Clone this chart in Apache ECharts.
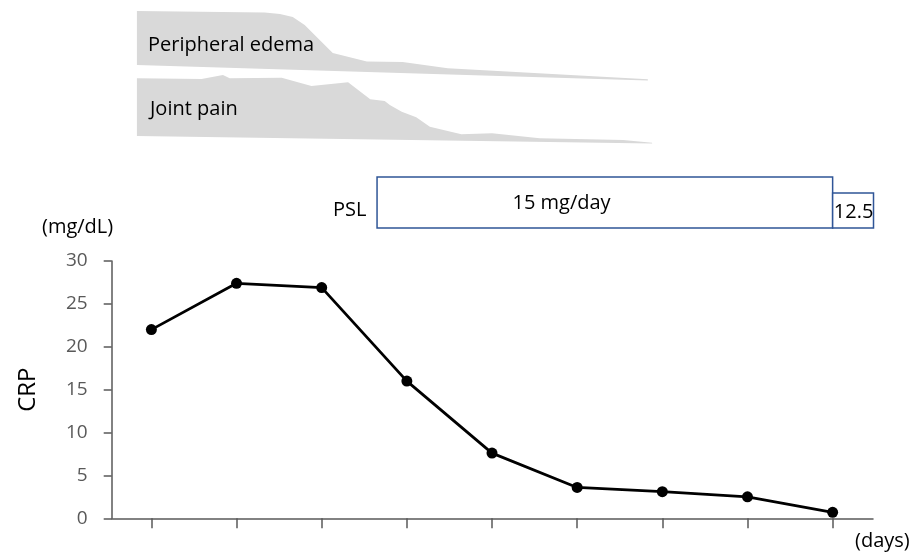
<!DOCTYPE html>
<html>
<head>
    <meta charset="utf-8">
    <script src="https://cdn.jsdelivr.net/npm/echarts@6/dist/echarts.min.js"></script>
</head>
<body style="margin:0">
    <div id="main" style="width:916px; height:555px"></div>
    <script type="text/javascript">
        // CRP course (mg/dL), one point per visit
        var dayIndex = [0, 1, 2, 3, 4, 5, 6, 7, 8];
        var crp = [22.0, 27.4, 26.9, 16.0, 7.6, 3.6, 3.1, 2.5, 0.7];

        // symptom profiles: top edge + sloped base (first / last x)
        var edemaX = [-0.17, 1.33, 1.51, 1.66, 1.80, 2.13, 2.53, 2.95, 3.48, 5.83];
        var edemaTop = [139, 137.5, 136, 133, 125, 97, 88.5, 88, 81.7, 70.7];
        var edemaBase = [85, 69.5];
        var jointX = [-0.17, 0.59, 0.84, 0.92, 1.53, 1.88, 2.31, 2.57, 2.74, 2.80, 2.94, 3.11, 3.27, 3.64, 4.00, 4.56, 5.54, 5.88];
        var jointTop = [71.7, 71, 75, 71.7, 72.3, 64, 67.7, 50.7, 49, 45, 38.3, 32.7, 23.3, 15.7, 16.7, 11.7, 10, 7.3];
        var jointBase = [14, 6.5];

        // PSL dose periods
        var pslStart = [2.65, 8.0];
        var pslEnd = [8.0, 8.48];
        var pslDose = [15, 12.5];
        var pslText = ['15 mg/day', '12.5'];

        var FONT = '"Open Sans", sans-serif';
        var xMin = -0.466, xMax = 8.474;

        function symptomShape(xs, tops, base) {
            return function (params, api) {
                if (params.dataIndex !== 0) return null;
                var pts = [];
                for (var i = 0; i < xs.length; i++) pts.push(api.coord([xs[i], tops[i]]));
                pts.push(api.coord([xs[xs.length - 1], base[1]]));
                pts.push(api.coord([xs[0], base[0]]));
                return {
                    type: 'polygon',
                    shape: { points: pts },
                    style: { fill: '#d9d9d9' }
                };
            };
        }

        function label(text, x, y) {
            return {
                type: 'text', z: 100, x: x, y: y,
                style: { text: text, font: '20px ' + FONT, fill: '#000', verticalAlign: 'middle', textVerticalAlign: 'middle' }
            };
        }

        var myChart = echarts.init(document.getElementById('main'));
        var option = {
            animation: false,
            grid: [
                { left: 111.7, right: 43, top: 261, bottom: 36.7 },
                { left: 111.7, right: 43, top: 177, height: 51 },
                { left: 111.7, right: 43, top: 0, height: 150 }
            ],
            xAxis: [{
                type: 'value',
                min: xMin,
                max: xMax,
                axisLine: { show: true, onZero: false, lineStyle: { color: '#595959', width: 1.5 } },
                axisTick: { show: true, length: 10, customValues: dayIndex, lineStyle: { color: '#595959', width: 1.5 } },
                axisLabel: { show: false },
                splitLine: { show: false }
            }, {
                gridIndex: 1, type: 'value', min: xMin, max: xMax, show: false
            }, {
                gridIndex: 2, type: 'value', min: xMin, max: xMax, show: false
            }],
            yAxis: [{
                type: 'value',
                min: 0,
                max: 30,
                interval: 5,
                name: 'CRP',
                nameLocation: 'middle',
                nameRotate: 90,
                nameGap: 72,
                nameTextStyle: { fontSize: 24, fontFamily: FONT, color: '#000' },
                axisLine: { show: true, onZero: false, lineStyle: { color: '#595959', width: 1.5 } },
                axisTick: { show: true, length: 8, lineStyle: { color: '#595959', width: 1.5 } },
                axisLabel: { fontSize: 19, fontFamily: FONT, color: '#595959', margin: 24 },
                splitLine: { show: false }
            }, {
                gridIndex: 1, type: 'value', min: 7, max: 15, show: false
            }, {
                gridIndex: 2, type: 'value', min: 0, max: 150, show: false
            }],
            graphic: [
                label('Peripheral edema', 148, 45),
                label('Joint pain', 150, 109),
                label('PSL', 333, 210),
                label('(mg/dL)', 42, 227),
                label('(days)', 855, 541)
            ],
            series: [
                {
                    type: 'custom',
                    xAxisIndex: 2,
                    yAxisIndex: 2,
                    data: edemaX.map(function (x, i) { return [x, edemaTop[i]]; }),
                    renderItem: symptomShape(edemaX, edemaTop, edemaBase)
                },
                {
                    type: 'custom',
                    xAxisIndex: 2,
                    yAxisIndex: 2,
                    data: jointX.map(function (x, i) { return [x, jointTop[i]]; }),
                    renderItem: symptomShape(jointX, jointTop, jointBase)
                },
                {
                    type: 'custom',
                    xAxisIndex: 1,
                    yAxisIndex: 1,
                    data: pslStart.map(function (s, i) { return [s, pslEnd[i], pslDose[i]]; }),
                    renderItem: function (params, api) {
                        var p0 = api.coord([api.value(0), api.value(2)]);
                        var p1 = api.coord([api.value(1), 7]);
                        var w = p1[0] - p0[0], h = p1[1] - p0[1];
                        var tx = params.dataIndex === 0 ? p0[0] + w * 0.405 : p0[0] + w / 2 + 0.5;
                        var ty = params.dataIndex === 0 ? p0[1] + 26 : p0[1] + h / 2 + 2;
                        return {
                            type: 'group',
                            children: [{
                                type: 'rect',
                                shape: { x: p0[0], y: p0[1], width: w, height: h },
                                style: { fill: '#fff', stroke: '#2f5597', lineWidth: 1.5 }
                            }, {
                                type: 'text',
                                style: {
                                    text: pslText[params.dataIndex], x: tx, y: ty,
                                    font: '20px ' + FONT, fill: '#000',
                                    align: 'center', verticalAlign: 'middle',
                                    textAlign: 'center', textVerticalAlign: 'middle'
                                }
                            }]
                        };
                    }
                },
                {
                    type: 'line',
                    data: dayIndex.map(function (d, i) { return [d, crp[i]]; }),
                    symbol: 'circle',
                    symbolSize: 11,
                    itemStyle: { color: '#000' },
                    lineStyle: { color: '#000', width: 2.8 },
                    z: 5
                }
            ]
        };
        myChart.setOption(option);
    </script>
</body>
</html>
